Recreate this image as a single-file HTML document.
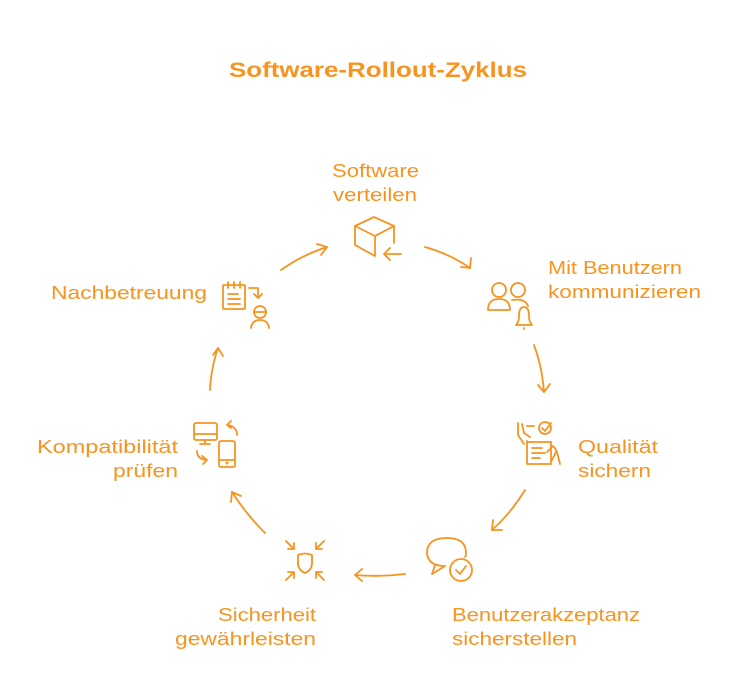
<!DOCTYPE html>
<html><head><meta charset="utf-8"><style>
html,body{margin:0;padding:0;background:#fff;}
svg{display:block;}
text{font-family:"Liberation Sans",sans-serif;fill:#f7931e;}
</style></head><body>
<svg width="738" height="696" viewBox="0 0 738 696" xmlns="http://www.w3.org/2000/svg">
<text x="229" y="77" font-size="21" font-weight="bold" textLength="298" lengthAdjust="spacingAndGlyphs">Software-Rollout-Zyklus</text>
<g font-size="18">
<text x="332" y="177" textLength="87" lengthAdjust="spacingAndGlyphs">Software</text>
<text x="333" y="201" textLength="84" lengthAdjust="spacingAndGlyphs">verteilen</text>
<text x="548" y="274" textLength="134" lengthAdjust="spacingAndGlyphs">Mit Benutzern</text>
<text x="548" y="298" textLength="153" lengthAdjust="spacingAndGlyphs">kommunizieren</text>
<text x="578" y="453" textLength="80" lengthAdjust="spacingAndGlyphs">Qualität</text>
<text x="578" y="477" textLength="73" lengthAdjust="spacingAndGlyphs">sichern</text>
<text x="452" y="621" textLength="188" lengthAdjust="spacingAndGlyphs">Benutzerakzeptanz</text>
<text x="452" y="645" textLength="125" lengthAdjust="spacingAndGlyphs">sicherstellen</text>
<text x="218" y="621" textLength="98" lengthAdjust="spacingAndGlyphs">Sicherheit</text>
<text x="175" y="645" textLength="141" lengthAdjust="spacingAndGlyphs">gewährleisten</text>
<text x="37" y="453" textLength="141" lengthAdjust="spacingAndGlyphs">Kompatibilität</text>
<text x="113" y="477" textLength="65" lengthAdjust="spacingAndGlyphs">prüfen</text>
<text x="51" y="299" textLength="156" lengthAdjust="spacingAndGlyphs">Nachbetreuung</text>
</g>
<g fill="none" stroke="#f7931e" stroke-width="1.8" stroke-linecap="round" stroke-linejoin="round">
<path d="M281 270 Q302 255 327 247"/><path d="M317 244 L327 247 L321 255"/>
<path d="M425 247 Q450 254 470 268"/><path d="M471 258 L470 268 L461 267"/>
<path d="M534 345 Q542 366 544 392"/><path d="M538 385 L544 392 L550 384"/>
<path d="M525 490 Q511 513 492 530"/><path d="M493 520 L492 530 L502 530"/>
<path d="M405 574 Q380 577 355 575"/><path d="M362 569 L355 575 L362 581"/>
<path d="M265 533 Q246 514 232 492"/><path d="M231 502 L232 492 L241 496"/>
<path d="M210 390 Q211 368 218 348"/><path d="M213 355 L218 348 L223 356"/>
<!-- cube -->
<path d="M355 226 L374 217 L394 226 L375 236 Z"/>
<path d="M355 226 L355 245 L375 256 L375 236"/>
<path d="M394 226 L394 243"/>
<path d="M401 254 L384 254 M390 248 L384 254 L390 260"/>
<!-- people + bell -->
<circle cx="499" cy="290" r="7"/><circle cx="518" cy="290" r="7"/>
<path d="M488 310 Q488 299 499 299 Q510 299 510 310 Z"/>
<path d="M512 300 Q525 298 528 306"/>
<path d="M516 325 L532 325 Q529 322 529 316 Q529 307 524 307 Q519 307 519 316 Q519 322 516 325 Z"/><path d="M524 328 L524 329"/>
<!-- quality -->
<path d="M518 423 L518 435 L524 444 M522 424 L524 433 L530 437"/>
<path d="M527 426 L534 426 M527 441 L527 464 L551 464 L551 442 L527 442"/>
<path d="M532 448 L542 448 M532 453 L545 453 M532 458 L540 458"/>
<circle cx="545" cy="428" r="6"/><path d="M542 428 L545 431 L551 423"/>
<path d="M547 452 L553 446 Q557 450 558 456 L560 464 M552 460 L556 452"/>
<!-- chat -->
<path d="M445 566 Q428 566 427 553 Q427 538 447 538 Q466 538 466 553 Q466 556 465 557 M445 566 L432 574 L435 565"/>
<circle cx="461" cy="570" r="11"/><path d="M456 570 L460 574 L466 566"/>
<!-- shield -->
<path d="M298 555 Q305 552 312 555 L312 563 Q312 570 305 573 Q298 570 298 563 Z"/>
<path d="M286 541 L294 549 M294 543 L294 549 L288 549 M324 541 L316 549 M316 543 L316 549 L322 549 M286 580 L294 572 M288 572 L294 572 L294 578 M324 580 L316 572 M322 572 L316 572 L316 578"/>
<!-- devices -->
<rect x="194" y="423" width="23" height="17" rx="2"/><path d="M194 434 L217 434 M205 440 L205 444 M200 444 L210 444"/>
<rect x="219" y="441" width="16" height="26" rx="2"/><path d="M219 460 L235 460"/><circle cx="227" cy="463" r="0.6"/>
<path d="M237 435 Q237 427 228 425 M231 421 L227 425 L231 428"/>
<path d="M197 451 Q197 459 206 460 M202 456 L207 460 L203 464"/>
<!-- notepad + person -->
<rect x="223" y="285" width="22" height="24" rx="1"/><path d="M228 282 L228 288 M234 282 L234 288 M240 282 L240 288 M228 294 L238 294 M228 299 L240 299 M228 304 L240 304"/>
<path d="M249 288 L258 288 L258 298 M254 294 L258 298 L262 294"/>
<circle cx="260" cy="312" r="6"/><path d="M254 312 L266 312 M251 328 Q252 320 260 320 Q268 320 269 328"/>
</g>
</svg>
</body></html>
